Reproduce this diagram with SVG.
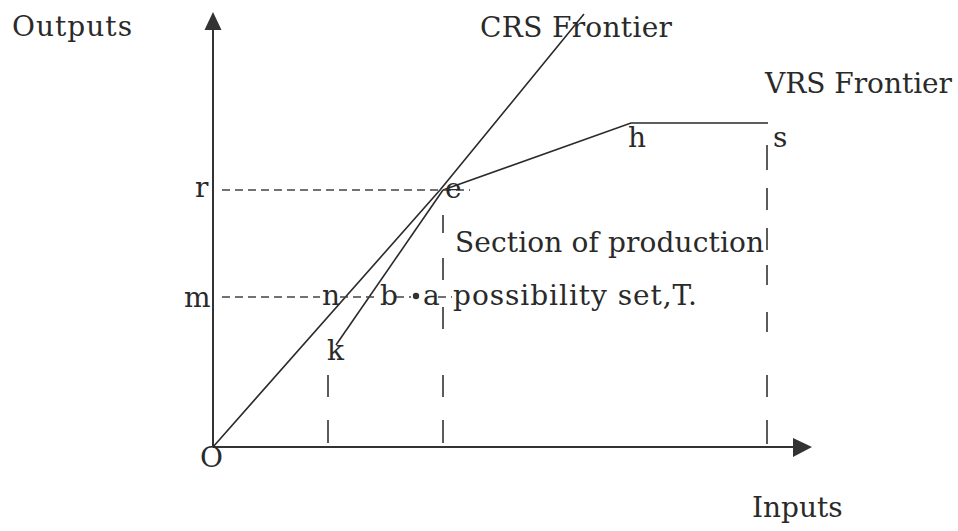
<svg xmlns="http://www.w3.org/2000/svg" width="958" height="531" viewBox="0 0 958 531">
<style>
text{font-family:"DejaVu Serif","Liberation Serif",serif;font-size:28px;fill:#2a2a2a}
.ax{stroke:#333;stroke-width:2;fill:none}
.ln{stroke:#2a2a2a;stroke-width:1.6;fill:none}
.dh{stroke:#444;stroke-width:1.4;stroke-dasharray:8 5;fill:none}
.dv{stroke:#333;stroke-width:1.6;fill:none}
.ah{fill:#333}
</style>
<rect width="958" height="531" fill="#fff"/>
<g id="axes">
<line class="ax" x1="213" y1="447" x2="213" y2="28"/>
<polygon class="ah" points="213,12 204.5,30 221.5,30"/>
<line class="ax" x1="213" y1="447" x2="796" y2="447"/>
<polygon class="ah" points="812,447 793,438 793,457"/>
</g>
<g id="connectors">
<polyline class="ln" points="213,447 440,190 584,14"/>
<polyline class="ln" points="443,190 631,123 768,123"/>
<line class="ln" x1="443" y1="190" x2="336" y2="345"/>
<line class="dh" x1="222" y1="190" x2="470" y2="190"/>
<line class="dh" x1="222" y1="297" x2="320" y2="297"/>
<line class="dh" x1="340" y1="297" x2="379" y2="297"/>
<line class="dh" x1="396" y1="297" x2="411" y2="297"/>
<line class="dh" x1="438" y1="297" x2="452" y2="297"/>
<path class="dv" d="M328,375V397M328,420V443"/>
<path class="dv" d="M443,215V233M443,258V280M443,307V329M443,375V397M443,420V443"/>
<path class="dv" d="M767,145V170M767,188V210M767,228V250M767,265V285M767,312V332M767,375V397M767,420V444"/>
<circle cx="416" cy="296" r="3.2" fill="#333"/>
</g>
<g id="labels">
<text x="12" y="36" textLength="120" lengthAdjust="spacing">Outputs</text>
<text x="480" y="37" textLength="192" lengthAdjust="spacing">CRS Frontier</text>
<text x="765" y="93" textLength="187" lengthAdjust="spacing">VRS Frontier</text>
<text x="752" y="517">Inputs</text>
<text x="200" y="467">O</text>
<text x="195" y="197">r</text>
<text x="184" y="307">m</text>
<text x="445" y="198">e</text>
<text x="628" y="147">h</text>
<text x="773" y="147">s</text>
<text x="322" y="305">n</text>
<text x="380" y="305">b</text>
<text x="423" y="305">a</text>
<text x="327" y="360">k</text>
<text x="455" y="252" textLength="309" lengthAdjust="spacing">Section of production</text>
<text x="453" y="305" textLength="244" lengthAdjust="spacing">possibility set,T.</text>
</g>
</svg>
